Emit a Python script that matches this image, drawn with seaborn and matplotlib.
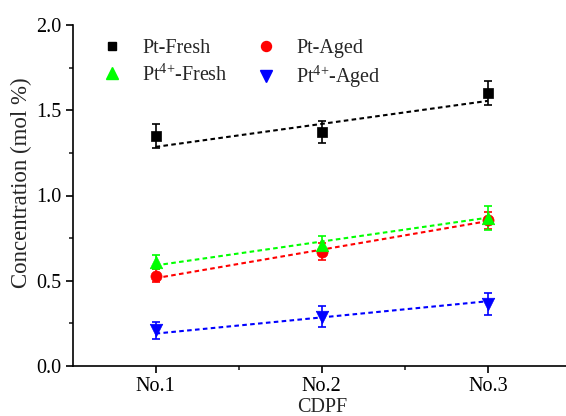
import numpy as np
import pandas as pd
import matplotlib
matplotlib.use("Agg")
import matplotlib.pyplot as plt
from matplotlib.ticker import MultipleLocator, FixedLocator, FormatStrFormatter
from matplotlib.lines import Line2D
import seaborn as sns

# Samples and measured Pt concentrations (mol %)
categories = ["No.1", "No.2", "No.3"]
pt_fresh = [1.35, 1.37, 1.60]
pt_fresh_err = [0.07, 0.065, 0.07]
pt_aged = [0.53, 0.67, 0.855]
pt_aged_err = [0.04, 0.05, 0.05]
pt4_fresh = [0.61, 0.71, 0.87]
pt4_fresh_err = [0.04, 0.05, 0.07]
pt4_aged = [0.21, 0.29, 0.365]
pt4_aged_err = [0.05, 0.06, 0.065]

# Linear trend values at No.1 and No.3
pt_fresh_trend = [1.285, 1.555]
pt_aged_trend = [0.515, 0.85]
pt4_fresh_trend = [0.59, 0.87]
pt4_aged_trend = [0.19, 0.38]

# "{+}" keeps mathtext from spacing the plus sign like an operator
series_labels = ["Pt-Fresh", "Pt-Aged", r"Pt$^{4{+}}$-Fresh", r"Pt$^{4{+}}$-Aged"]

sns.set_style("ticks")
plt.rcParams["font.family"] = ["Liberation Serif", "DejaVu Serif"]
plt.rcParams["mathtext.fontset"] = "custom"
plt.rcParams["mathtext.rm"] = "Liberation Serif"
plt.rcParams["mathtext.it"] = "Liberation Serif"
plt.rcParams["mathtext.bf"] = "Liberation Serif:bold"
plt.rcParams["mathtext.default"] = "regular"

FS = 14.5

fig = plt.figure(figsize=(5.66, 4.16), dpi=100)
# axes run slightly past the right edge of the canvas
ax = fig.add_axes([72.5 / 566, 50 / 416, (571 - 72.5) / 566, (366 - 25) / 416])

pos = np.arange(1, len(categories) + 1)

series = [
    (pt_fresh, pt_fresh_err, pt_fresh_trend, "#000000", "s", 7.0),
    (pt_aged, pt_aged_err, pt_aged_trend, "#ff0000", "o", 8.0),
    (pt4_fresh, pt4_fresh_err, pt4_fresh_trend, "#00ff00", "^", 9.0),
    (pt4_aged, pt4_aged_err, pt4_aged_trend, "#0000ff", "v", 9.0),
]

handles = []
for (vals, errs, trend, color, marker, ms), label in zip(series, series_labels):
    trend_df = pd.DataFrame({"x": [pos[0], pos[-1]], "y": trend})
    sns.lineplot(data=trend_df, x="x", y="y", ax=ax, color=color,
                 linewidth=1.5, linestyle=(0, (2.2, 1.6)), zorder=2)
    ax.errorbar(pos, vals, yerr=errs, fmt="none", ecolor=color,
                elinewidth=1.2, capsize=3, capthick=1.2, zorder=3)
    df = pd.DataFrame({"x": pos, "y": vals})
    sns.scatterplot(data=df, x="x", y="y", ax=ax, color=color, marker=marker,
                    s=ms ** 2, edgecolor=color, linewidth=0.5, zorder=4)
    handles.append(Line2D([], [], linestyle="none", marker=marker, color=color,
                          markersize=ms * 0.9, label=label))

ax.set_xlim(0.5, 3.5)
ax.set_ylim(0, 2.0)
ax.xaxis.set_major_locator(FixedLocator(pos))
ax.xaxis.set_minor_locator(FixedLocator(pos[:-1] + 0.5))
ax.set_xticklabels(categories)
ax.yaxis.set_major_locator(MultipleLocator(0.5))
ax.yaxis.set_minor_locator(MultipleLocator(0.25))
ax.yaxis.set_major_formatter(FormatStrFormatter("%.1f"))

for side in ["top", "right"]:
    ax.spines[side].set_visible(False)
for side in ["left", "bottom"]:
    ax.spines[side].set_linewidth(1.2)
    ax.spines[side].set_color("black")

ax.tick_params(axis="both", which="major", direction="out", length=5, width=1.2,
               labelsize=FS, colors="black", pad=3)
ax.tick_params(axis="both", which="minor", direction="out", length=3, width=1.2)

ax.set_xlabel("CDPF", fontsize=FS, labelpad=1)
ax.set_ylabel("Concentration (mol %)", fontsize=16.5)
ax.yaxis.set_label_coords(-0.081, 0.537)

order = [0, 2, 1, 3]
leg = ax.legend(handles=[handles[i] for i in order],
                labels=[series_labels[i] for i in order],
                ncol=2, frameon=False, fontsize=FS,
                loc="upper left", bbox_to_anchor=(102 / 566, 1 - 39 / 416),
                bbox_transform=fig.transFigure,
                handlelength=1.0, handletextpad=1.0, columnspacing=1.4,
                labelspacing=0.3, borderpad=0, borderaxespad=0)

fig.savefig("out.png", dpi=100)
